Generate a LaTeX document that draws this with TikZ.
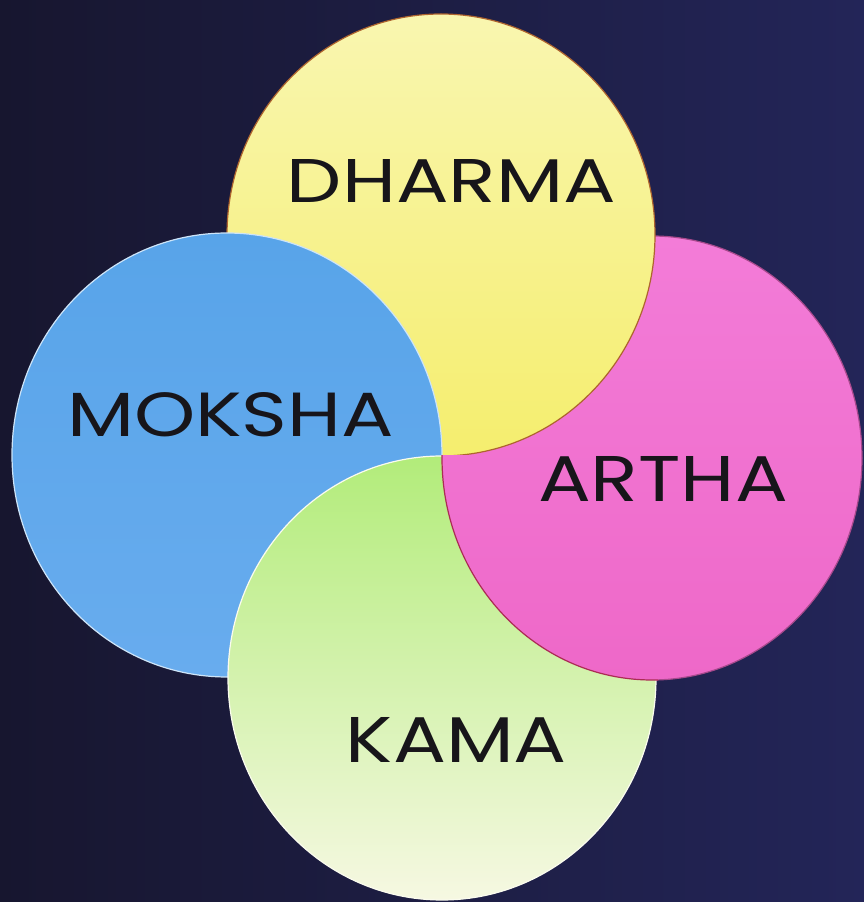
\documentclass[tikz,border=0pt]{standalone}
\usepackage{fontspec}
\newfontfamily\labelfont{Poppins}
\definecolor{bgL}{HTML}{17162F}
\definecolor{bgR}{HTML}{232558}
\definecolor{yelT}{HTML}{F9F6B0}
\definecolor{yelB}{HTML}{F5EE6E}
\definecolor{bluT}{HTML}{58A4E9}
\definecolor{bluB}{HTML}{68ACEE}
\definecolor{pnkT}{HTML}{F37CD8}
\definecolor{pnkB}{HTML}{EE68C8}
\definecolor{grnT}{HTML}{B2EC7A}
\definecolor{grnB}{HTML}{F6F8E2}
\definecolor{ink}{HTML}{17151A}
\tikzset{
  disc/.style={line width=1.2pt},
  lbl/.style={inner sep=0pt, anchor=base, text=ink},
}
\newcommand{\fitlabel}[3]{\resizebox{#1}{#2}{\labelfont\fontsize{60}{60}\selectfont #3}}
\begin{document}
\begin{tikzpicture}[x=1pt,y=1pt]
\useasboundingbox (0,0) rectangle (864,902);
\shade[left color=bgL, right color=bgR] (0,0) rectangle (864,902);
% pink (ARTHA)
\shadedraw[disc, draw=pnkB!70!black, top color=pnkT, bottom color=pnkB] (652,444) ellipse [x radius=210, y radius=222];
% yellow (DHARMA) over pink
\shadedraw[disc, draw=yelB!60!red!70!black, top color=yelT, bottom color=yelB] (441,667) ellipse [x radius=214, y radius=221];
% blue (MOKSHA) over yellow
\shadedraw[disc, draw=bluT!30!white, top color=bluT, bottom color=bluB] (227,447) ellipse [x radius=215, y radius=222];
% green (KAMA) over blue
\shadedraw[disc, draw=grnB!60!white, top color=grnT, bottom color=grnB] (442,224) ellipse [x radius=214, y radius=222];
% pink again over green
\begin{scope}
  \clip (442,224) ellipse [x radius=216.5, y radius=224.5];
  \clip (0,0) rectangle (864,446);
  \shadedraw[disc, draw=pnkB!60!red!70!black, top color=pnkT, bottom color=pnkB] (652,444) ellipse [x radius=210, y radius=222];
\end{scope}
\node[lbl] (dharma) at (451.5,699) {\fitlabel{329pt}{43pt}{DHARMA}};
\node[lbl] (moksha) at (230.5,465) {\fitlabel{327pt}{44pt}{MOKSHA}};
\node[lbl] (artha) at (663,400) {\fitlabel{250pt}{45pt}{ARTHA}};
\node[lbl] (kama) at (456.5,139) {\fitlabel{221pt}{45pt}{KAMA}};
\end{tikzpicture}
\end{document}
